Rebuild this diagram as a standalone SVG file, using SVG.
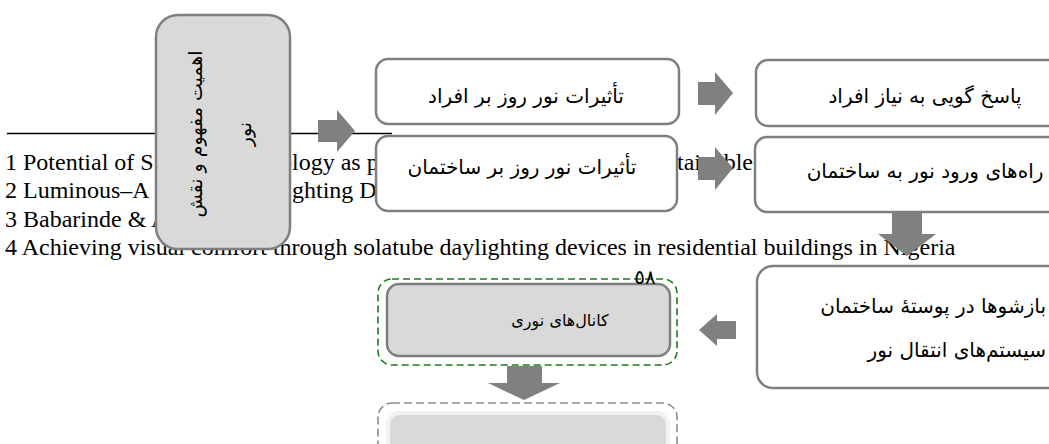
<svg xmlns="http://www.w3.org/2000/svg" width="1049" height="444" viewBox="0 0 1049 444">
<style>
.fn{font-family:"Liberation Serif","Times New Roman",serif;font-size:24px;fill:#000}
.fa{font-family:"DejaVu Sans",sans-serif;font-size:20px;fill:#000}
.box{fill:#fff;stroke:#7f7f7f;stroke-width:2.5}
.gbox{fill:#d9d9d9;stroke:#7f7f7f;stroke-width:2.5}
.arr{fill:#808080}
</style>
<rect width="1049" height="444" fill="#fff"/>
<g id="footnotes">
<line x1="7" y1="133.5" x2="392" y2="133.5" stroke="#000" stroke-width="1.5"/>
<text class="fn" x="5" y="170">1 Potential of S</text>
<text class="fn" x="280" y="170">ology as p</text>
<text class="fn" x="677" y="170">tainable</text>
<text class="fn" x="5" y="198">2 Luminous–A</text>
<text class="fn" x="292" y="198">ghting D</text>
<text class="fn" x="5" y="227">3 Babarinde &amp; A</text>
<text class="fn" x="5" y="255">4 Achieving visual comfort through solatube daylighting devices in residential buildings in Nigeria</text>
</g>
<g id="n-importance">
<rect class="gbox" x="156" y="15" width="134" height="234" rx="22"/>
<text class="fa" style="font-size:19px" text-anchor="middle" transform="translate(202,134) rotate(-90)">اهمیت مفهوم و نقش</text>
<text class="fa" style="font-size:19px" text-anchor="middle" transform="translate(251,134) rotate(-90)">نور</text>
</g>
<g id="n-people">
<rect class="box" x="376" y="59" width="303" height="65" rx="12"/>
<text class="fa" x="526" y="103" text-anchor="middle">تأثیرات نور روز بر افراد</text>
</g>
<g id="n-building">
<rect class="box" x="376" y="136" width="301" height="75" rx="12"/>
<text class="fa" x="522" y="174" text-anchor="middle">تأثیرات نور روز بر ساختمان</text>
</g>
<g id="n-needs">
<rect class="box" x="756" y="60" width="340" height="66" rx="12"/>
<text class="fa" x="925" y="103" text-anchor="middle">پاسخ گویی به نیاز افراد</text>
</g>
<g id="n-entry">
<rect class="box" x="755" y="137" width="340" height="75" rx="12"/>
<text class="fa" x="925" y="178" text-anchor="middle">راه‌های ورود نور به ساختمان</text>
</g>
<g id="n-openings">
<rect class="box" x="757" y="266" width="340" height="122" rx="16"/>
<text class="fa" x="1046" y="313" text-anchor="end">بازشوها در پوستهٔ ساختمان</text>
<text class="fa" x="1046" y="357" text-anchor="end">سیستم‌های انتقال نور</text>
</g>
<g id="n-channels">
<rect x="378" y="279" width="299" height="86" rx="14" fill="none" stroke="#1f7a1f" stroke-width="1.6" stroke-dasharray="7,4"/>
<rect class="gbox" x="387" y="284" width="283" height="72" rx="12" stroke-width="3.5"/>
<text class="fa" style="font-size:16px" x="560" y="326" text-anchor="middle">کانال‌های نوری</text>
</g>
<g id="n-next">
<rect x="378" y="403" width="299" height="70" rx="14" fill="none" stroke="#8c8c8c" stroke-width="1.6" stroke-dasharray="8,4"/>
<rect x="388" y="413" width="280" height="60" rx="12" fill="#d9d9d9" stroke="#f2f2f2" stroke-width="4"/>
</g>
<g id="page-number">
<text class="fa" x="645" y="284" text-anchor="middle">٥٨</text>
</g>
<g id="connectors">
<polygon class="arr" points="318,120 337,120 337,110 355,131 337,152 337,142 318,142"/>
<polygon class="arr" points="698,82 715,82 715,72 733,93 715,115 715,105 698,105"/>
<polygon class="arr" points="698,157 715,157 715,147 733,168 715,190 715,180 698,180"/>
<polygon class="arr" points="892,213 922,213 922,234 936,234 907,256 878,234 892,234"/>
<polygon class="arr" points="736,321 717,321 717,314 699,330 717,346 717,339 736,339"/>
<polygon class="arr" points="507,366 542,366 542,383 560,383 524,400 488,383 507,383"/>
</g>
</svg>
